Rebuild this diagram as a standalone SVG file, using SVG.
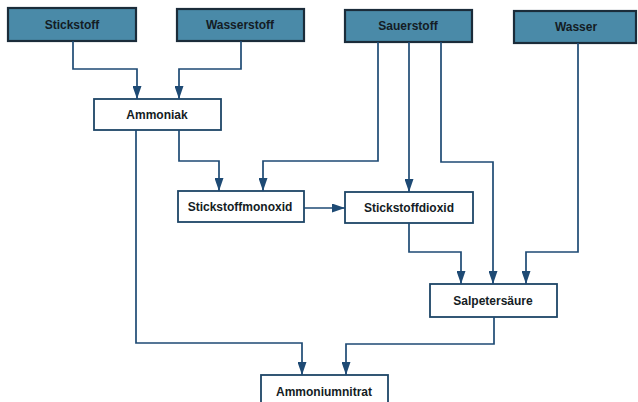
<svg xmlns="http://www.w3.org/2000/svg" width="638" height="402" viewBox="0 0 638 402">
  <defs>
    <marker id="arrow" markerUnits="userSpaceOnUse" markerWidth="13" markerHeight="9" refX="13" refY="4.5" orient="auto">
      <path d="M0,0 L13,4.5 L0,9 Z" fill="#1e4a74"/>
    </marker>
  </defs>
  <style>
    .src rect { fill: #4a8aa8; stroke: #1b2c3a; stroke-width: 2.2; }
    .prod rect { fill: #ffffff; stroke: #1d4566; stroke-width: 1.8; }
    text { font-family: "Liberation Sans", Arial, sans-serif; font-weight: bold; font-size: 12px; fill: #141c24; text-anchor: middle; }
    .links path { fill: none; stroke: #1e4a74; stroke-width: 1.7; marker-end: url(#arrow); }
  </style>
  <rect width="638" height="402" fill="#ffffff"/>

  <!-- raw materials -->
  <g id="stickstoff" class="src"><rect x="8" y="8" width="128" height="33"/><text x="72" y="29">Stickstoff</text></g>
  <g id="wasserstoff" class="src"><rect x="177" y="9" width="127" height="32"/><text x="240" y="29">Wasserstoff</text></g>
  <g id="sauerstoff" class="src"><rect x="345" y="10" width="127" height="32"/><text x="408" y="30">Sauerstoff</text></g>
  <g id="wasser" class="src"><rect x="514" y="11" width="122" height="32"/><text x="576" y="31">Wasser</text></g>

  <!-- intermediate and final products -->
  <g id="ammoniak" class="prod"><rect x="94" y="99" width="127" height="31"/><text x="157" y="119">Ammoniak</text></g>
  <g id="stickstoffmonoxid" class="prod"><rect x="178" y="191" width="126" height="31"/><text x="240" y="211">Stickstoffmonoxid</text></g>
  <g id="stickstoffdioxid" class="prod"><rect x="345" y="192" width="128" height="31"/><text x="409" y="212">Stickstoffdioxid</text></g>
  <g id="salpetersaeure" class="prod"><rect x="430" y="284" width="127" height="33"/><text x="493" y="305">Salpetersäure</text></g>
  <g id="ammoniumnitrat" class="prod"><rect x="261" y="375" width="127" height="36"/><text x="324" y="396">Ammoniumnitrat</text></g>

  <!-- connectors -->
  <g class="links">
    <path d="M73,41 V69 H137 V99"/>
    <path d="M241,41 V69 H179 V99"/>
    <path d="M179,130 V161 H219 V191"/>
    <path d="M378,42 V161 H263 V191"/>
    <path d="M409,42 V192"/>
    <path d="M441,42 V162 H493 V284"/>
    <path d="M304,208 H345"/>
    <path d="M409,223 V252 H461 V284"/>
    <path d="M578,43 V252 H526 V284"/>
    <path d="M136,130 V343 H302 V375"/>
    <path d="M494,317 V344 H346 V375"/>
  </g>
</svg>
